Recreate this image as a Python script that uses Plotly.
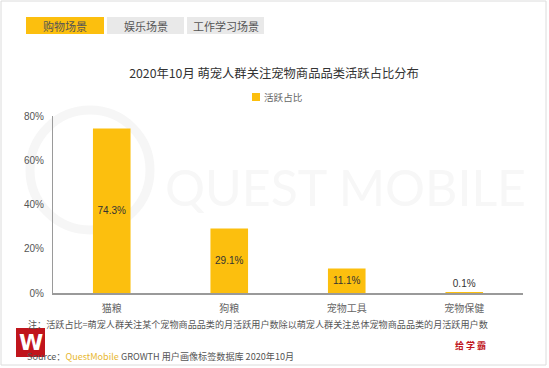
import plotly.graph_objects as go

categories = ["猫粮", "狗粮", "宠物工具", "宠物保健"]
values = [74.3, 29.1, 11.1, 0.1]
value_labels = ["74.3%", "29.1%", "11.1%", "0.1%"]
y_ticks = [0, 20, 40, 60, 80]
y_tick_labels = ["0%", "20%", "40%", "60%", "80%"]
tabs = ["购物场景", "娱乐场景", "工作学习场景"]
series_name = "活跃占比"
title_text = "2020年10月 萌宠人群关注宠物商品品类活跃占比分布"
note_text = "注：活跃占比=萌宠人群关注某个宠物商品品类的月活跃用户数除以萌宠人群关注总体宠物商品品类的月活跃用户数"

W, H = 549, 368
L, R, T, B = 53, 26, 116, 75
PW, PH = W - L - R, H - T - B
FONT = "Noto Sans CJK SC, Noto Sans, sans-serif"
BAR = "#FCBF0E"


def px(x):
    return (x - L) / PW


def py(y):
    return (H - B - y) / PH


positions = ["inside" if v > 5 else "outside" for v in values]

fig = go.Figure()
fig.add_trace(go.Bar(
    x=categories, y=values, name=series_name,
    marker=dict(color=BAR, line=dict(width=0)),
    text=value_labels, textposition=positions,
    insidetextanchor="middle",
    textfont=dict(size=10, color="#333333", family="Arial, Liberation Sans, sans-serif"),
    cliponaxis=False, showlegend=False,
))

shapes = []
annotations = []

# outer light border
shapes.append(dict(type="rect", xref="paper", yref="paper",
                   x0=px(1), x1=px(546), y0=py(365), y1=py(1),
                   line=dict(color="#dcdcdc", width=1), layer="below"))

# watermark circle
shapes.append(dict(type="circle", xref="paper", yref="paper",
                   x0=px(30), x1=px(150), y0=py(230), y1=py(110),
                   line=dict(color="#f6f6f6", width=9), layer="below"))
annotations.append(dict(text="QUEST MOBILE", xref="paper", yref="paper",
                        x=px(345), y=py(187), showarrow=False,
                        font=dict(size=50, color="#f7f7f7", family="Lato, Open Sans, sans-serif"),
                        xanchor="center", yanchor="middle"))

# tabs
tab_boxes = [(26, 104), (107, 184), (187, 264)]
for i, (name, (x0, x1)) in enumerate(zip(tabs, tab_boxes)):
    shapes.append(dict(type="rect", xref="paper", yref="paper",
                       x0=px(x0), x1=px(x1), y0=py(34), y1=py(17),
                       fillcolor=BAR if i == 0 else "#e9e9e9",
                       line=dict(width=0), layer="below"))
    annotations.append(dict(text=name, xref="paper", yref="paper",
                            x=px((x0 + x1) / 2), y=py(25.5), showarrow=False,
                            font=dict(size=11, color="#555555", family=FONT),
                            xanchor="center", yanchor="middle"))

# legend (manual)
shapes.append(dict(type="rect", xref="paper", yref="paper",
                   x0=px(252), x1=px(260), y0=py(101), y1=py(93),
                   fillcolor=BAR, line=dict(width=0)))
annotations.append(dict(text=series_name, xref="paper", yref="paper",
                        x=px(262), y=py(97), showarrow=False,
                        font=dict(size=9.6, color="#666666", family=FONT),
                        xanchor="left", yanchor="middle"))

# note
annotations.append(dict(text=note_text, xref="paper", yref="paper",
                        x=px(26), y=py(324), showarrow=False,
                        font=dict(size=9.1, color="#555555", family=FONT),
                        xanchor="left", yanchor="middle"))

# source line
annotations.append(dict(
    text="Source：<span style='color:#E8B830'>QuestMobile</span> GROWTH 用户画像标签数据库 2020年10月",
    xref="paper", yref="paper", x=px(25), y=py(356), showarrow=False,
    font=dict(size=9.1, color="#555555", family=FONT),
    xanchor="left", yanchor="middle"))

# red logo
shapes.append(dict(type="rect", xref="paper", yref="paper",
                   x0=px(16), x1=px(45), y0=py(357), y1=py(328),
                   fillcolor="#C0151C", line=dict(width=0), layer="above"))
annotations.append(dict(text="<b>W</b>", xref="paper", yref="paper",
                        x=px(30.5), y=py(342.5), showarrow=False,
                        font=dict(size=22, color="white", family="DejaVu Sans, sans-serif"),
                        xanchor="center", yanchor="middle"))

annotations.append(dict(text="<b>给 学 霸</b>", xref="paper", yref="paper",
                        x=px(470), y=py(345), showarrow=False,
                        font=dict(size=9, color="#C0151C", family=FONT),
                        xanchor="center", yanchor="middle"))

fig.update_layout(
    width=W, height=H,
    margin=dict(l=L, r=R, t=T, b=B, pad=0),
    paper_bgcolor="white", plot_bgcolor="rgba(0,0,0,0)",
    font=dict(family=FONT, color="#555555"),
    title=dict(text=title_text, x=px(274), y=1 - 74 / H, xref="paper",
               xanchor="center", yanchor="middle",
               font=dict(size=12.3, color="#333333", family=FONT)),
    showlegend=False,
    bargap=0.68,
    shapes=shapes,
    annotations=annotations,
    xaxis=dict(showline=True, linecolor="#9a9a9a", linewidth=1.5, showgrid=False,
               ticks="", ticklabelstandoff=5,
               tickfont=dict(size=10, color="#666666", family=FONT),
               fixedrange=True),
    yaxis=dict(range=[0, 80], tickvals=y_ticks, ticktext=y_tick_labels,
               showline=True, linecolor="#9a9a9a", linewidth=1, showgrid=False,
               zeroline=False, ticks="", ticklabelstandoff=6,
               tickfont=dict(size=10, color="#555555", family="Arial, Liberation Sans, sans-serif")),
)

fig.write_html("out.html", config={"displayModeBar": False},
               post_script="document.body.style.margin='0';document.body.style.overflow='hidden';")
